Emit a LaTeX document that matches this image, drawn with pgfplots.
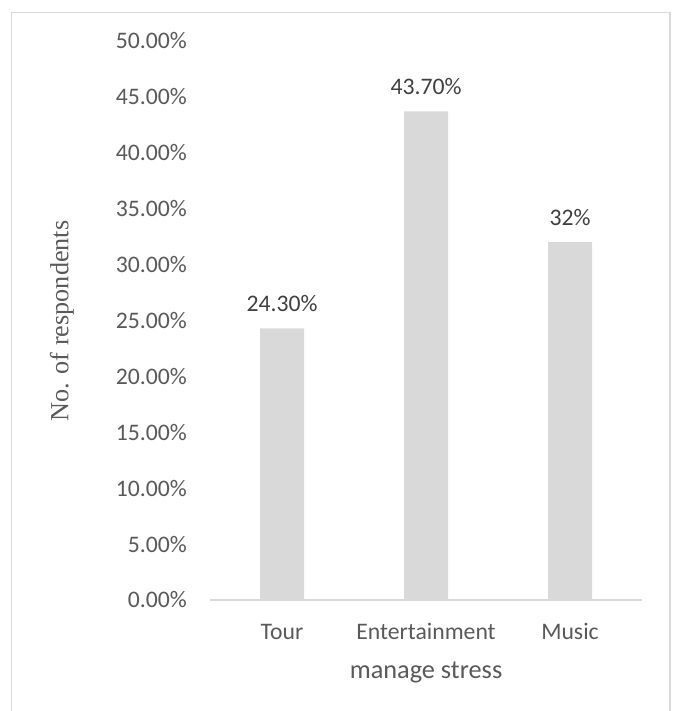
\documentclass[border=0pt]{standalone}
\usepackage{pgfplots}
\pgfplotsset{compat=1.18}
\usepackage{fontspec}
\setmainfont{Carlito}
\newfontfamily\timesfont{Liberation Serif}
\definecolor{bargray}{HTML}{D9D9D9}
\definecolor{ticktext}{HTML}{595959}
\definecolor{labeltext}{HTML}{404040}
\begin{document}
\begin{tikzpicture}[x=1pt,y=1pt]
\useasboundingbox (0,0) rectangle (679,711);
\draw[bargray, line width=1.5pt] (11.5,-2) -- (11.5,698.5) -- (670,698.5) -- (670,-2);
\begin{axis}[
  at={(282pt,111pt)}, anchor=origin,
  scale only axis, width=432pt, height=559pt,
  xmin=-0.5, xmax=2.5, ymin=0, ymax=50,
  axis line style={draw=none},
  ytick={0,5,10,15,20,25,30,35,40,45,50},
  yticklabels={0.00\%,5.00\%,10.00\%,15.00\%,20.00\%,25.00\%,30.00\%,35.00\%,40.00\%,45.00\%,50.00\%},
  xtick={0,1,2},
  xticklabels={Tour,Entertainment,Music},
  ytick pos=left, xtick pos=bottom,
  major tick length=0pt,
  tick style={draw=none},
  yticklabel style={font=\fontsize{23.7}{28}\selectfont, text=ticktext, anchor=east, inner sep=0pt, xshift=-23pt},
  xticklabel style={font=\fontsize{23.7}{28}\selectfont, text=ticktext, anchor=base, inner sep=0pt, yshift=-40pt},
  xlabel={manage stress},
  x label style={font=\fontsize{26.3}{30}\selectfont, text=ticktext, at={(axis description cs:0.5,0)}, anchor=base, inner sep=0pt, yshift=-78pt},
  ylabel={No. of respondents},
  y label style={font=\timesfont\fontsize{26.2}{30}\selectfont, text=ticktext, at={(axis description cs:-0.343,0.499)}, anchor=center},
  ybar, bar width=44pt,
  nodes near coords,
  point meta=explicit symbolic,
  every node near coord/.append style={font=\fontsize{23.7}{28}\selectfont, text=labeltext, anchor=base, inner sep=0pt, yshift=17pt},
  clip=false,
]
\addplot[fill=bargray, draw=none] coordinates {(0,24.3) [24.30\%] (1,43.7) [43.70\%] (2,32) [32\%]};
\draw[bargray, line width=1.5pt] (axis cs:-0.5,0) -- (axis cs:2.5,0);
\end{axis}
\end{tikzpicture}
\end{document}
